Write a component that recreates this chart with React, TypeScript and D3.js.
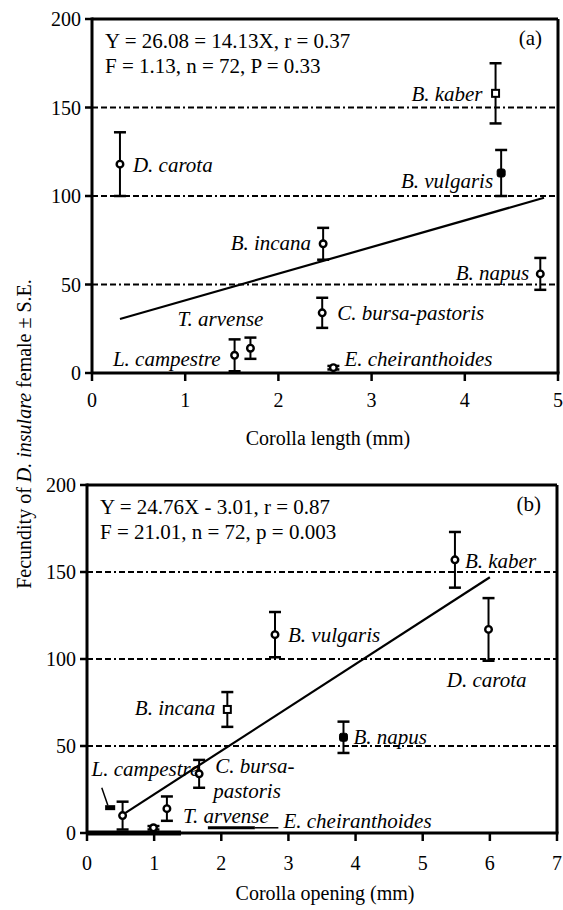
import React from "react";
import * as d3 from "d3";

// ---------- data (panel a: corolla length) ----------
const speciesA = ["D. carota", "B. kaber", "B. vulgaris", "B. incana", "B. napus", "C. bursa-pastoris", "E. cheiranthoides", "L. campestre", "T. arvense"];
const lengthA = [0.3, 4.33, 4.39, 2.48, 4.81, 2.47, 2.59, 1.53, 1.7];
const fecundityA = [118, 158, 113, 73, 56, 34, 3, 10, 14];
const seA = [18, 17, 13, 9, 9, 8.5, 1, 9, 6];
const markerA = ["circle", "square", "filled", "circle", "circle", "circle", "circle", "circle", "circle"];
const fitA = [[0.3, 30.5], [4.85, 99]];
const eqA = ["Y = 26.08 = 14.13X, r = 0.37", "F = 1.13, n = 72, P = 0.33"];

// ---------- data (panel b: corolla opening) ----------
const speciesB = ["B. kaber", "D. carota", "B. vulgaris", "B. incana", "B. napus", "C. bursa-|pastoris", "L. campestre", "T. arvense", "E. cheiranthoides"];
const openingB = [5.48, 5.98, 2.8, 2.09, 3.82, 1.67, 0.53, 1.19, 0.99];
const fecundityB = [157, 117, 114, 71, 55, 34, 10, 14, 3];
const seB = [16, 18, 13, 10, 9, 8, 8, 7, 1];
const markerB = ["circle", "circle", "circle", "square", "filled", "circle", "circle", "circle", "circle"];
const fitB = [[0.55, 11], [6.0, 147]];
const eqB = ["Y =  24.76X - 3.01, r = 0.87", "F = 21.01, n = 72, p = 0.003"];

const yTicks = [0, 50, 100, 150, 200];
const gridValues = [50, 100, 150];
const xTicksA = [0, 1, 2, 3, 4, 5];
const xTicksB = [0, 1, 2, 3, 4, 5, 6, 7];

// label layout (pixel offsets from marker)
const labelLayoutA = [
  { dx: 13, dy: 8, a: "start" },
  { dx: -13, dy: 8, a: "end" },
  { dx: -8, dy: 15, a: "end" },
  { dx: -12, dy: 6, a: "end" },
  { dx: -11, dy: 6, a: "end" },
  { dx: 15, dy: 7, a: "start" },
  { dx: 11, dy: -2, a: "start" },
  { dx: -14, dy: 11, a: "end" },
  { dx: 13, dy: -22, a: "end" },
];
const labelLayoutB = [
  { dx: 10, dy: 8, a: "start" },
  { dx: 38, dy: 58, a: "end" },
  { dx: 13, dy: 7, a: "start" },
  { dx: -12, dy: 6, a: "end" },
  { dx: 10, dy: 7, a: "start" },
  { dx: 16, dy: -1, a: "start" },
  { dx: -31, dy: -40, a: "start" },
  { dx: 16, dy: 14, a: "start" },
  { dx: 130, dy: 0, a: "start" },
];

const FONT = "'Liberation Serif', 'Times New Roman', serif";
const FS = 20;
const FS_LABEL = 21;

function Marker({ x, y, type }: { x: number; y: number; type: string }) {
  if (type === "square") {
    return <rect x={x - 3.5} y={y - 3.5} width={7} height={7} fill="#fff" stroke="#000" strokeWidth={2} />;
  }
  if (type === "filled") {
    return <rect x={x - 4} y={y - 4} width={8} height={8} rx={2} fill="#000" stroke="#000" strokeWidth={1} />;
  }
  return <circle cx={x} cy={y} r={3.3} fill="#fff" stroke="#000" strokeWidth={2.4} />;
}

type PanelProps = {
  x0: number; x1: number; y0: number; y1: number;
  xMax: number; xTicks: number[];
  species: string[]; xs: number[]; ys: number[]; se: number[]; markers: string[];
  fit: number[][]; eq: string[]; tag: string; layout: { dx: number; dy: number; a: string }[];
  title: string; tickLabelDy: number; titleY: number;
  extra?: (x: d3.ScaleLinear<number, number>, y: d3.ScaleLinear<number, number>) => React.ReactNode;
};

function Panel(p: PanelProps) {
  const x = d3.scaleLinear().domain([0, p.xMax]).range([p.x0, p.x1]);
  const y = d3.scaleLinear().domain([0, 200]).range([p.y0, p.y1]);
  const line = d3.line<number[]>().x((d) => x(d[0])).y((d) => y(d[1]));
  const cap = 6;
  return (
    <g fontFamily={FONT} fontSize={FS} fill="#000">
      {/* grid dash-dot lines */}
      {gridValues.map((g) => (
        <line key={g} x1={p.x0} x2={p.x1} y1={y(g)} y2={y(g)} stroke="#000" strokeWidth={1.8} strokeDasharray="6,3,6,3,6,3,2,3" />
      ))}
      {/* frame */}
      <line x1={p.x0} x2={p.x1} y1={p.y1} y2={p.y1} stroke="#000" strokeWidth={3} />
      <line x1={p.x1} x2={p.x1} y1={p.y1} y2={p.y0} stroke="#000" strokeWidth={3} />
      <line x1={p.x0} x2={p.x1 + 1.5} y1={p.y0} y2={p.y0} stroke="#000" strokeWidth={3} />
      <line x1={p.x0} x2={p.x0} y1={p.y1 - 1.5} y2={p.y0} stroke="#000" strokeWidth={3} />
      {/* y ticks */}
      {yTicks.map((t) => (
        <g key={t}>
          <line x1={p.x0 - 7} x2={p.x0} y1={y(t)} y2={y(t)} stroke="#000" strokeWidth={2.5} />
          <text x={p.x0 - 11} y={y(t)} dy="0.35em" textAnchor="end">{t}</text>
        </g>
      ))}
      {/* x ticks */}
      {p.xTicks.map((t) => (
        <g key={t}>
          <line x1={x(t)} x2={x(t)} y1={p.y0} y2={p.y0 + 8} stroke="#000" strokeWidth={2.5} />
          <text x={x(t)} y={p.y0 + p.tickLabelDy} textAnchor="middle">{t}</text>
        </g>
      ))}
      <text x={(p.x0 + p.x1) / 2 + 3} y={p.titleY} textAnchor="middle">{p.title}</text>
      {/* regression line */}
      <path d={line(p.fit) || ""} fill="none" stroke="#000" strokeWidth={2.2} />
      {p.extra && p.extra(x, y)}
      {/* error bars + markers */}
      {p.species.map((s, i) => {
        const cx = x(p.xs[i]);
        const top = y(p.ys[i] + p.se[i]);
        const bot = y(Math.max(0, p.ys[i] - p.se[i]));
        return (
          <g key={s}>
            <line x1={cx} x2={cx} y1={top} y2={bot} stroke="#000" strokeWidth={2} />
            <line x1={cx - cap} x2={cx + cap} y1={top} y2={top} stroke="#000" strokeWidth={2.5} />
            <line x1={cx - cap} x2={cx + cap} y1={bot} y2={bot} stroke="#000" strokeWidth={2.5} />
            <Marker x={cx} y={y(p.ys[i])} type={p.markers[i]} />
          </g>
        );
      })}
      {/* labels */}
      {p.species.map((s, i) => {
        const L = p.layout[i];
        const lx = x(p.xs[i]) + L.dx;
        const ly = y(p.ys[i]) + L.dy;
        const parts = s.split("|");
        return (
          <text key={s} x={lx} y={ly} textAnchor={L.a as any} fontStyle="italic" fontSize={FS_LABEL}>
            {parts.map((pt, k) => (
              <tspan key={k} x={k === 0 ? lx : lx - 2} dy={k === 0 ? 0 : 25}>{pt}</tspan>
            ))}
          </text>
        );
      })}
      {/* equation */}
      <text x={p.x0 + 13} y={p.y1 + 29} fontSize={21}>{p.eq[0]}</text>
      <text x={p.x0 + 13} y={p.y1 + 54} fontSize={21}>{p.eq[1]}</text>
      <text x={p.x1 - 16} y={p.y1 + 26} textAnchor="end" fontSize={21}>{p.tag}</text>
    </g>
  );
}

export default function App() {
  return (
    <svg width={563} height={910} style={{ position: "absolute", left: 0, top: 0, background: "#fff" }}>
      <rect width={563} height={910} fill="#fff" />
      <Panel
        x0={92} x1={558} y0={373} y1={19} xMax={5} xTicks={xTicksA}
        species={speciesA} xs={lengthA} ys={fecundityA} se={seA} markers={markerA}
        fit={fitA} eq={eqA} tag="(a)" layout={labelLayoutA}
        title="Corolla length (mm)" tickLabelDy={34} titleY={445}
      />
      <Panel
        x0={87} x1={557} y0={833} y1={485} xMax={7} xTicks={xTicksB}
        species={speciesB} xs={openingB} ys={fecundityB} se={seB} markers={markerB}
        fit={fitB} eq={eqB} tag="(b)" layout={labelLayoutB}
        title="Corolla opening (mm)" tickLabelDy={37} titleY={900}
        extra={(x, y) => (
          <g>
            <line x1={x(0)} x2={x(1.4)} y1={y(0)} y2={y(0)} stroke="#000" strokeWidth={5} />
            <line x1={x(1.8)} x2={x(2.5)} y1={y(3)} y2={y(3)} stroke="#000" strokeWidth={3} />
            <line x1={x(2.5)} x2={x(2.85)} y1={y(3)} y2={y(3)} stroke="#000" strokeWidth={1.5} />
            <polyline points={`${x(0.22)},${y(26)} ${x(0.31)},${y(16)}`} fill="none" stroke="#000" strokeWidth={1.5} />
            <rect x={x(0.27)} y={y(16)} width={x(0.42) - x(0.27)} height={5} fill="#000" />
          </g>
        )}
      />
      <text
        transform="translate(31,434) rotate(-90)"
        textAnchor="middle"
        fontFamily={FONT}
        fontSize={FS}
      >
        Fecundity of <tspan fontStyle="italic">D. insulare</tspan> female ± S.E.
      </text>
    </svg>
  );
}
